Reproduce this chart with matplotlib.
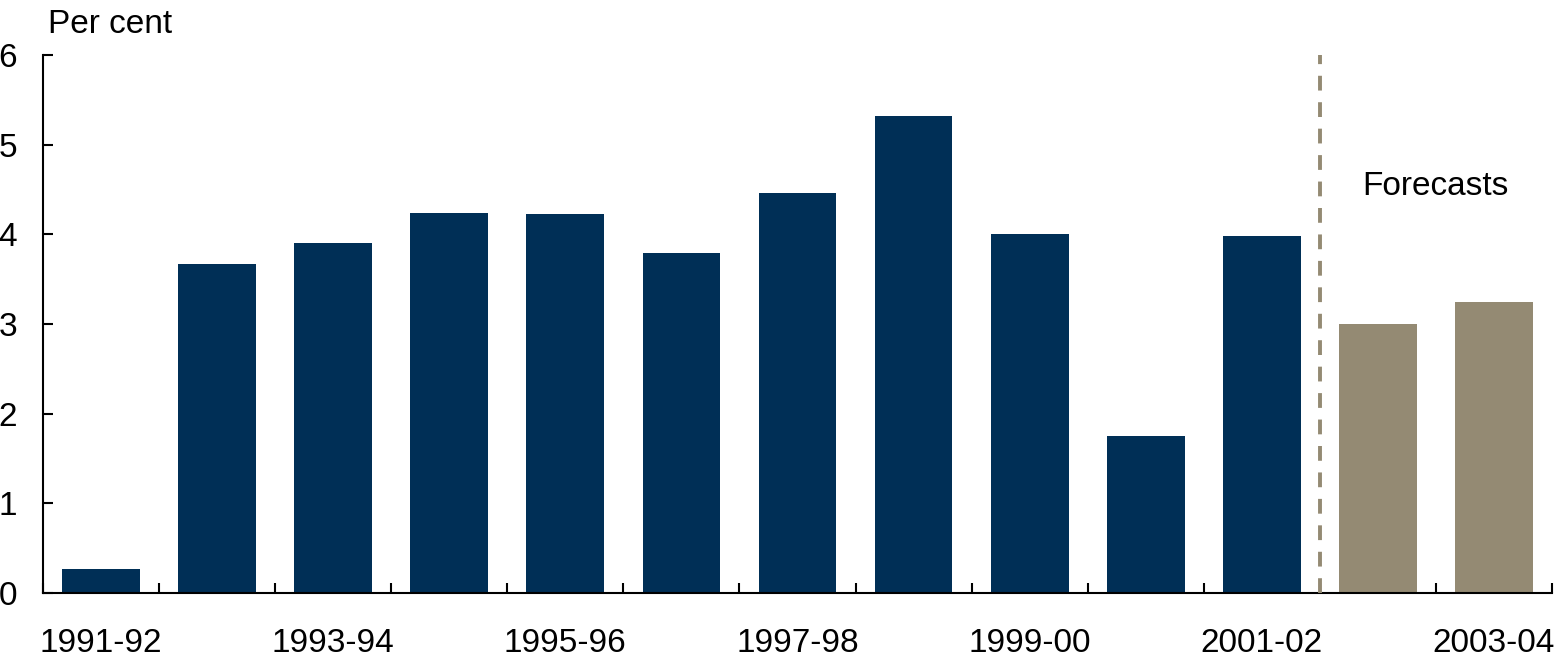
"""
Bar chart: annual growth, per cent, with forecast years.
"""

import matplotlib
matplotlib.use('Agg')
import matplotlib.pyplot as plt
import numpy as np

plt.rcParams['font.family'] = ['Liberation Sans', 'DejaVu Sans']

NAVY = '#002F56'
TAUPE = '#948A73'

years = ['1991-92', '1992-93', '1993-94', '1994-95', '1995-96', '1996-97',
         '1997-98', '1998-99', '1999-00', '2000-01', '2001-02', '2002-03',
         '2003-04']
values = [0.27, 3.67, 3.90, 4.24, 4.23, 3.79, 4.46, 5.32, 4.00, 1.75, 3.98,
          3.00, 3.25]
is_forecast = [False] * 11 + [True, True]

fig = plt.figure(figsize=(15.6, 6.63), dpi=100)
ax = fig.add_axes([43 / 1560, 1 - 593 / 663, (1552 - 43) / 1560, (593 - 55) / 663])

x = np.arange(len(years))
colors = [TAUPE if f else NAVY for f in is_forecast]
ax.bar(x, values, width=0.67, color=colors, zorder=2)

# forecast divider
split = is_forecast.index(True) - 0.5
ax.axvline(split, ymin=0, ymax=1, color=TAUPE, lw=2.8,
           linestyle=(0, (3.8, 3.0)), zorder=3)
ax.text(split + 1, 4.53, 'Forecasts', ha='center', va='center', fontsize=24)

ax.set_xlim(-0.5, len(years) - 0.5)
ax.set_ylim(0, 6)
ax.set_yticks(range(0, 7))

ax.set_xticks(x[::2])
ax.set_xticklabels(years[::2])
ax.set_xticks(np.arange(-0.5, len(years), 1.0), minor=True)
ax.tick_params(axis='x', which='major', length=0, pad=25, labelsize=24)
ax.tick_params(axis='x', which='minor', direction='in', length=7.5, width=1.5)
ax.tick_params(axis='y', direction='in', length=7.5, width=1.5, pad=18.5,
               labelsize=24)

for side in ['top', 'right']:
    ax.spines[side].set_visible(False)
for side in ['left', 'bottom']:
    ax.spines[side].set_linewidth(1.5)

fig.text(48 / 1560, 1 - 33 / 663, 'Per cent', ha='left', va='baseline',
         fontsize=24)

plt.savefig('out.png', dpi=100, facecolor='white')
plt.close()
